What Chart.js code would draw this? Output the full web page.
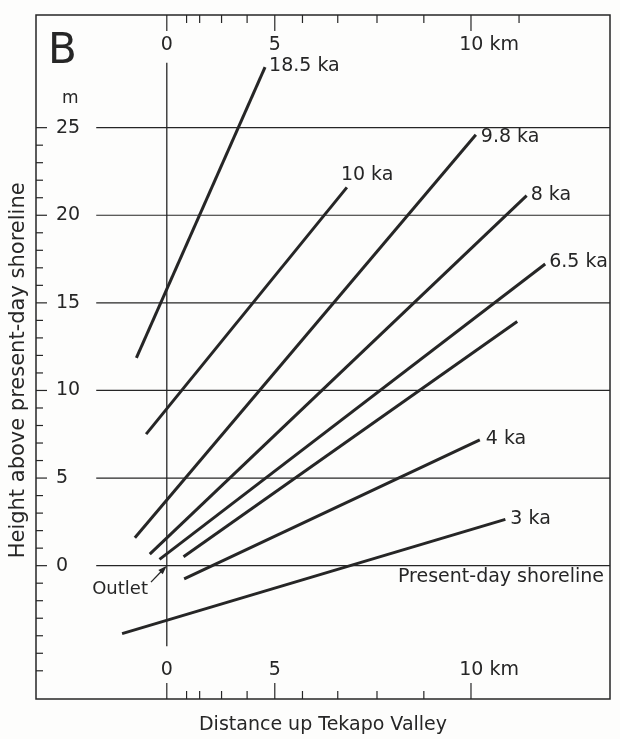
<!DOCTYPE html>
<html>
<head>
<meta charset="utf-8">
<title>Tekapo shorelines</title>
<script src="https://cdn.jsdelivr.net/npm/chart.js"></script>
<style>
    body { margin: 0; background: #fdfdfc; }
    #wrap { width: 620px; height: 739px; }
</style>
</head>
<body>
<div id="wrap"><canvas id="chart"></canvas></div>
<script>
// Shoreline profiles.
// x = position along the distance axis (10 km mark = 10), y = metres above present shoreline
const shorelineAges = ['18.5 ka', '10 ka', '9.8 ka', '8 ka', '6.5 ka', '', '4 ka', '3 ka'];
const startDist   = [-1.00, -0.68, -1.05, -0.56, -0.24, 0.55, 0.57, -1.47];
const startHeight = [11.86, 7.51, 1.59, 0.66, 0.36, 0.51, -0.75, -3.88];
const endDist     = [3.23, 5.92, 10.16, 11.83, 12.44, 11.52, 10.29, 11.13];
const endHeight   = [28.46, 21.59, 24.60, 21.12, 17.22, 13.94, 7.18, 2.64];

// km marks up the valley - they are not evenly spaced on the plot
const distanceKm  = [0, 1, 2, 3, 4, 5, 6, 7, 8, 9, 10, 11];
const distancePos = [0, 0.65, 1.08, 1.80, 2.64, 3.55, 4.46, 5.62, 6.91, 8.45, 10.0, 11.58];
const distanceLabels = { 0: '0', 5: '5', 10: '10 km' };
const bottomTickCount = 11;   // bottom scale stops at 10 km

const heightLabels = [0, 5, 10, 15, 20, 25];
const heightTickRange = [-6, 25];

// outlet and the vertical line drawn through it
const outletDist = 0;
const outletLine = [-4.6, 28.7];

// ---- look ----
const ink = '#262626';
const xRange = [-4.30, 14.57];
const yRange = [-7.61, 31.43];
const gridStart = -2.32;
const labelNudge = [[4, -1], [-6, -12], [5, 2], [4, -1], [4, -2], [0, 0], [6, -1], [5, 0]];
const notes = [
    { text: 'Present-day shoreline', x: 7.60, y: -0.67, align: 'left', size: 19 },
    { text: 'Outlet', x: -0.62, y: -1.34, align: 'right', size: 18 },
    { text: 'm', x: -3.17, y: 26.66, align: 'center', size: 17 },
    { text: 'B', x: -3.43, y: 29.3, align: 'center', size: 42 }
];
const arrowFrom = [-0.52, -0.94];

Chart.defaults.font.family = "'DejaVu Sans', sans-serif";
Chart.defaults.color = ink;

const datasets = shorelineAges.map((age, i) => ({
    label: age || 'unlabelled',
    data: [{ x: startDist[i], y: startHeight[i] }, { x: endDist[i], y: endHeight[i] }],
    borderColor: ink,
    borderWidth: 3,
    pointRadius: 0
}));
datasets.push({
    label: 'outlet',
    data: outletLine.map(h => ({ x: outletDist, y: h })),
    borderColor: ink,
    borderWidth: 1.3,
    pointRadius: 0
});

const kmLabel = km => {
    const s = distanceLabels[km];
    if (s === undefined) return '';
    return s.includes(' ') ? '      ' + s : s;   // keep the number over its tick
};

function seg(ctx, x1, y1, x2, y2) {
    ctx.beginPath();
    ctx.moveTo(x1, y1);
    ctx.lineTo(x2, y2);
    ctx.stroke();
}

const decor = {
    id: 'decor',
    beforeDatasetsDraw(chart) {
        const { ctx, chartArea: a, scales: { x, x2, y } } = chart;
        ctx.save();
        ctx.strokeStyle = ink;
        ctx.lineWidth = 1.5;
        ctx.strokeRect(a.left, a.top, a.right - a.left, a.bottom - a.top);

        ctx.lineWidth = 1.2;
        heightLabels.forEach(v => {
            const py = y.getPixelForValue(v);
            seg(ctx, x.getPixelForValue(gridStart), py, a.right, py);
        });

        // tick marks point into the frame
        x.ticks.forEach((t, i) => {
            const px = x.getPixelForValue(t.value);
            const len = distanceKm[i] % 5 === 0 ? 16 : 8;
            seg(ctx, px, a.bottom, px, a.bottom - len);
        });
        x2.ticks.forEach((t, i) => {
            const px = x2.getPixelForValue(t.value);
            const len = distanceKm[i] % 5 === 0 ? 16 : 8;
            seg(ctx, px, a.top, px, a.top + len);
        });
        y.ticks.forEach(t => {
            const py = y.getPixelForValue(t.value);
            const len = heightLabels.includes(t.value) ? 11 : 7;
            seg(ctx, a.left, py, a.left + len, py);
        });
        ctx.restore();
    },
    afterDatasetsDraw(chart) {
        const { ctx, scales: { x, y } } = chart;
        ctx.save();
        ctx.fillStyle = ink;
        ctx.strokeStyle = ink;
        ctx.textBaseline = 'middle';

        ctx.font = "19px 'DejaVu Sans'";
        ctx.textAlign = 'left';
        shorelineAges.forEach((age, i) => {
            if (!age) return;
            const p = chart.getDatasetMeta(i).data[1];
            ctx.fillText(age, p.x + labelNudge[i][0], p.y + labelNudge[i][1]);
        });

        notes.forEach(n => {
            ctx.font = n.size + "px 'DejaVu Sans'";
            ctx.textAlign = n.align;
            ctx.fillText(n.text, x.getPixelForValue(n.x), y.getPixelForValue(n.y));
        });

        // outlet arrow
        const x1 = x.getPixelForValue(arrowFrom[0]), y1 = y.getPixelForValue(arrowFrom[1]);
        const x2 = x.getPixelForValue(outletDist), y2 = y.getPixelForValue(0);
        const ang = Math.atan2(y2 - y1, x2 - x1);
        ctx.lineWidth = 1.3;
        seg(ctx, x1, y1, x2 - 6 * Math.cos(ang), y2 - 6 * Math.sin(ang));
        ctx.beginPath();
        ctx.moveTo(x2, y2);
        ctx.lineTo(x2 - 9 * Math.cos(ang) + 3 * Math.sin(ang), y2 - 9 * Math.sin(ang) - 3 * Math.cos(ang));
        ctx.lineTo(x2 - 9 * Math.cos(ang) - 3 * Math.sin(ang), y2 - 9 * Math.sin(ang) + 3 * Math.cos(ang));
        ctx.closePath();
        ctx.fill();
        ctx.restore();
    }
};

const distAxis = (position, count, pad) => ({
    type: 'linear',
    position: position,
    min: xRange[0],
    max: xRange[1],
    afterBuildTicks: s => { s.ticks = distancePos.slice(0, count).map(v => ({ value: v })); },
    grid: { display: false },
    border: { display: false },
    ticks: {
        mirror: true,
        padding: pad,
        autoSkip: false,
        maxRotation: 0,
        font: { size: 19 },
        callback: (v, i) => kmLabel(distanceKm[i])
    }
});

const xBottom = distAxis('bottom', bottomTickCount, 17.6);
xBottom.afterFit = s => { s.height = 40; s.paddingLeft = 0; s.paddingRight = 0; };
xBottom.title = { display: true, text: 'Distance up Tekapo Valley', font: { size: 19 }, padding: { top: 0, bottom: 2.6 } };

const xTop = distAxis('top', distancePos.length, 18.6);
xTop.afterFit = s => { s.height = 15; s.paddingLeft = 0; s.paddingRight = 0; };

new Chart(document.getElementById('chart'), {
    type: 'line',
    data: { datasets },
    options: {
        animation: false,
        responsive: true,
        maintainAspectRatio: false,
        devicePixelRatio: 1,
        layout: { padding: { left: 0, right: 10, top: 0, bottom: 0 } },
        plugins: { legend: { display: false }, tooltip: { enabled: false } },
        scales: {
            x: xBottom,
            x2: xTop,
            y: {
                type: 'linear',
                min: yRange[0],
                max: yRange[1],
                afterBuildTicks: s => {
                    const t = [];
                    for (let v = heightTickRange[0]; v <= heightTickRange[1]; v++) t.push({ value: v });
                    s.ticks = t;
                },
                afterFit: s => { s.width = 36; s.paddingTop = 0; s.paddingBottom = 0; },
                grid: { display: false },
                border: { display: false },
                ticks: {
                    mirror: true,
                    padding: 20,
                    autoSkip: false,
                    font: { size: 19 },
                    callback: v => heightLabels.includes(v) ? String(v) : ''
                },
                title: {
                    display: true,
                    text: 'Height above present-day shoreline    ',
                    font: { size: 21 },
                    padding: { top: 6, bottom: 0 }
                }
            }
        }
    },
    plugins: [decor]
});
</script>
</body>
</html>
